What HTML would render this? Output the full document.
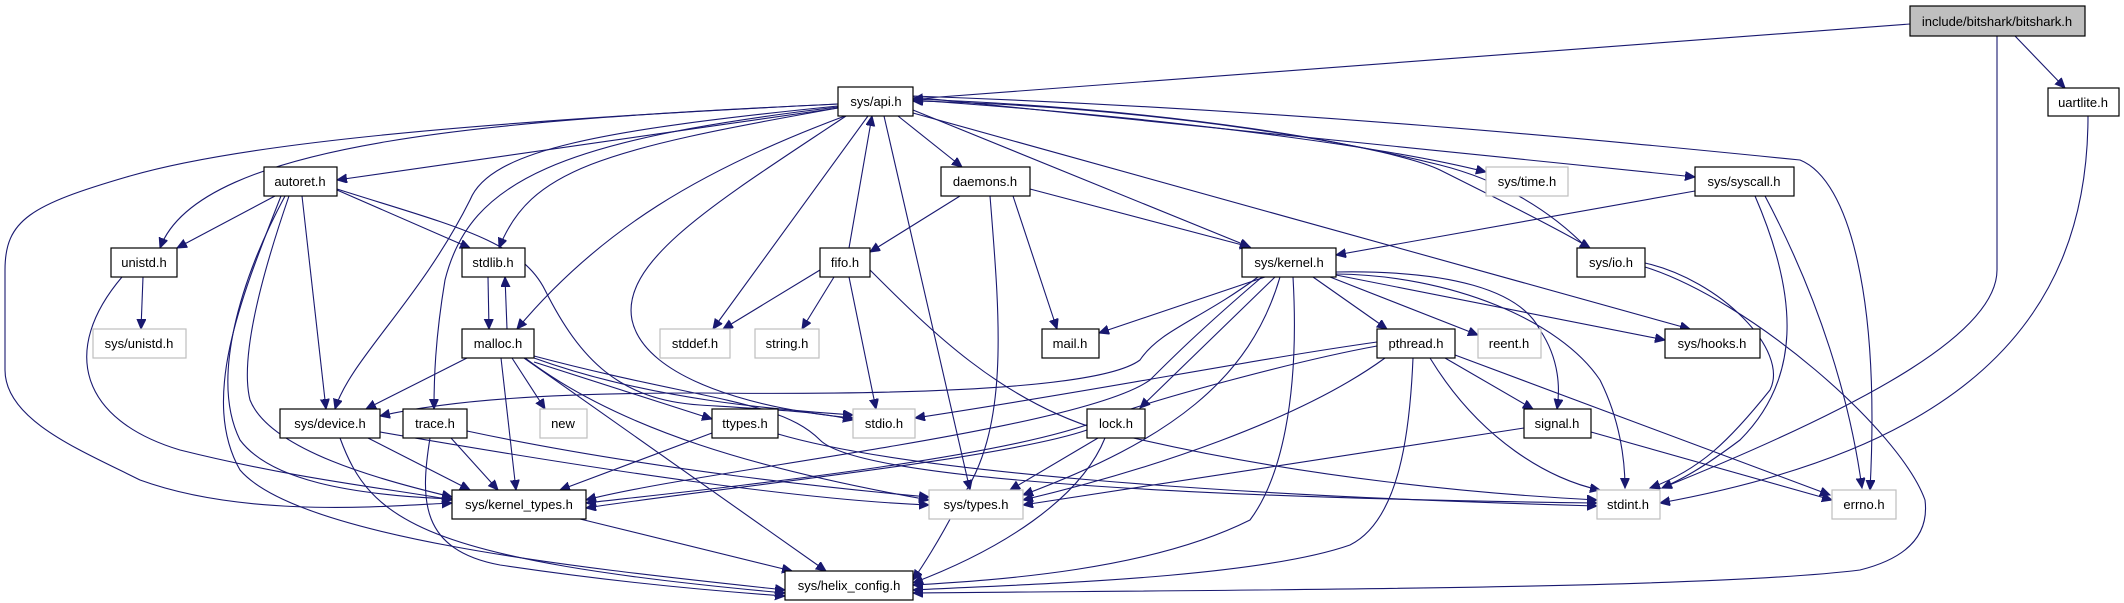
<!DOCTYPE html>
<html><head><meta charset="utf-8"><style>
html,body{margin:0;padding:0;background:#fff}
svg{display:block}
text{font-family:"Liberation Sans",sans-serif;font-size:13px;text-anchor:middle;fill:#000}
.e{fill:none;stroke:#191970;stroke-width:1.1;marker-end:url(#a)}
.b{fill:#fff;stroke:#000;stroke-width:1.2}
.g{fill:#fff;stroke:#bfbfbf;stroke-width:1.2}
</style></head><body>
<svg width="2124" height="603" viewBox="0 0 2124 603" xmlns="http://www.w3.org/2000/svg">
<defs><marker id="a" markerUnits="userSpaceOnUse" markerWidth="12" markerHeight="10" refX="10" refY="4.5" orient="auto"><path d="M0,0 L10,4.5 L0,9 z" fill="#191970" stroke="#191970"/></marker></defs>
<g>
<path class="e" d="M1910,24 L913,99"/>
<path class="e" d="M2015,36 L2065,88"/>
<path class="e" d="M1997,36 L1997,270 C1997,330 1880,400 1662,488"/>
<path class="e" d="M2088,116 C2088,330 1950,450 1660,503"/>
<path class="e" d="M838,108 L337,180"/>
<path class="e" d="M838,104 C500,120 200,140 160,248"/>
<path class="e" d="M838,104 C400,125 220,150 130,176 C30,205 5,220 5,270 L5,370 C5,420 80,450 140,480 C250,520 400,505 452,503"/>
<path class="e" d="M838,106 C600,130 490,150 470,200 C420,300 350,360 335,409"/>
<path class="e" d="M838,107 C560,140 470,180 445,280 C435,340 434,380 434,409"/>
<path class="e" d="M838,108 C600,150 530,170 499,248"/>
<path class="e" d="M845,116 C700,170 600,230 517,329"/>
<path class="e" d="M846,116 C720,200 620,260 632,320 C645,380 760,410 853,418"/>
<path class="e" d="M868,116 L713,329"/>
<path class="e" d="M884,116 L970,490"/>
<path class="e" d="M849,248 L872,116"/>
<path class="e" d="M898,116 L962,167"/>
<path class="e" d="M913,110 L1250,247"/>
<path class="e" d="M913,113 L1690,329"/>
<path class="e" d="M913,100 C1200,120 1400,150 1486,172"/>
<path class="e" d="M913,97 L1695,177"/>
<path class="e" d="M913,99 C1200,110 1400,150 1440,170 C1500,200 1560,230 1590,248"/>
<path class="e" d="M1587,248 C1550,210 1500,180 1440,165 C1300,130 1100,105 913,101"/>
<path class="e" d="M913,96 C1300,110 1600,140 1800,160 C1850,180 1880,300 1870,490"/>
<path class="e" d="M275,196 L177,248"/>
<path class="e" d="M337,190 L470,248"/>
<path class="e" d="M302,196 L326,409"/>
<path class="e" d="M289,196 C260,280 240,360 250,400 C270,450 380,480 452,497"/>
<path class="e" d="M285,196 C240,280 210,380 240,440 C270,480 350,495 452,499"/>
<path class="e" d="M281,196 C240,300 200,400 240,470 C300,540 600,570 785,590"/>
<path class="e" d="M337,189 C450,225 520,240 545,290 C580,360 620,400 700,405 C780,410 820,412 853,420"/>
<path class="e" d="M143,277 L141,329"/>
<path class="e" d="M122,277 C60,350 80,420 180,450 C300,480 400,490 452,500"/>
<path class="e" d="M488,277 L489,329"/>
<path class="e" d="M507,329 L505,277"/>
<path class="e" d="M467,358 L366,409"/>
<path class="e" d="M501,358 L516,490"/>
<path class="e" d="M512,358 L545,409"/>
<path class="e" d="M534,362 L712,419"/>
<path class="e" d="M534,358 C650,400 780,410 853,415"/>
<path class="e" d="M525,358 C620,430 760,470 929,500"/>
<path class="e" d="M524,358 L826,571"/>
<path class="e" d="M534,356 C700,400 780,400 820,440 C860,480 1200,498 1597,503"/>
<path class="e" d="M960,196 L870,252"/>
<path class="e" d="M1030,189 L1250,247"/>
<path class="e" d="M1013,196 L1057,329"/>
<path class="e" d="M990,196 C1000,320 1010,430 960,500 C940,540 920,570 913,580"/>
<path class="e" d="M820,270 L723,329"/>
<path class="e" d="M834,277 L802,329"/>
<path class="e" d="M849,277 L876,409"/>
<path class="e" d="M870,270 C930,330 1000,400 1100,430 C1300,480 1500,495 1597,500"/>
<path class="e" d="M1265,277 L1099,333"/>
<path class="e" d="M1258,277 C1200,320 1160,330 1140,360 C1100,390 900,395 700,393 C550,393 450,400 380,416"/>
<path class="e" d="M1262,277 C1200,330 1170,360 1150,380 C1080,430 700,470 586,500"/>
<path class="e" d="M1275,277 L1140,408"/>
<path class="e" d="M1280,277 C1250,380 1170,440 1023,495"/>
<path class="e" d="M1293,277 C1300,400 1280,480 1250,520 C1150,570 1000,580 913,585"/>
<path class="e" d="M1313,277 L1387,329"/>
<path class="e" d="M1330,277 L1478,335"/>
<path class="e" d="M1336,275 L1665,340"/>
<path class="e" d="M1336,272 C1450,270 1520,290 1540,330 C1560,360 1560,390 1557,409"/>
<path class="e" d="M1336,274 C1450,275 1560,320 1600,380 C1620,420 1625,460 1625,488"/>
<path class="e" d="M1695,191 L1336,255"/>
<path class="e" d="M1755,196 C1800,300 1800,380 1740,440 C1700,470 1680,480 1662,488"/>
<path class="e" d="M1765,196 C1820,300 1850,400 1862,488"/>
<path class="e" d="M1645,263 C1720,280 1790,350 1770,390 C1730,440 1700,470 1650,488"/>
<path class="e" d="M1645,267 C1750,300 1900,430 1925,500 C1930,540 1900,560 1860,570 C1700,590 1200,590 913,593"/>
<path class="e" d="M1377,342 C1250,360 1100,390 915,418"/>
<path class="e" d="M1377,346 C1300,360 1150,400 1100,420 C1000,460 700,490 586,503"/>
<path class="e" d="M1385,358 C1300,420 1150,470 1023,500"/>
<path class="e" d="M1413,358 C1410,430 1400,520 1350,545 C1250,580 1000,585 913,590"/>
<path class="e" d="M1445,358 L1533,409"/>
<path class="e" d="M1430,358 C1480,440 1550,480 1600,490"/>
<path class="e" d="M1455,355 L1830,495"/>
<path class="e" d="M1524,428 L1023,505"/>
<path class="e" d="M1591,432 L1832,500"/>
<path class="e" d="M1087,430 C1000,460 700,490 586,508"/>
<path class="e" d="M1098,438 L1010,490"/>
<path class="e" d="M1105,438 C1080,500 1000,550 913,583"/>
<path class="e" d="M368,438 L470,490"/>
<path class="e" d="M340,438 C370,520 420,560 785,593"/>
<path class="e" d="M380,432 C600,470 800,500 929,505"/>
<path class="e" d="M451,438 L498,490"/>
<path class="e" d="M430,438 C420,500 420,550 500,565 C600,580 700,590 785,596"/>
<path class="e" d="M467,431 C650,470 850,490 929,497"/>
<path class="e" d="M712,433 L560,490"/>
<path class="e" d="M778,434 C900,470 1200,495 1597,506"/>
<path class="e" d="M580,519 L792,571"/>
</g>
<g>
<rect x="1910" y="6" width="175" height="30" fill="#bfbfbf" stroke="#000" stroke-width="1.2"/><text x="1997" y="26">include/bitshark/bitshark.h</text>
<rect class="b" x="838" y="87" width="75" height="29"/><text x="876" y="106">sys/api.h</text>
<rect class="b" x="2048" y="88" width="71" height="28"/><text x="2083" y="107">uartlite.h</text>
<rect class="b" x="264" y="167" width="73" height="29"/><text x="300" y="186">autoret.h</text>
<rect class="b" x="941" y="167" width="89" height="29"/><text x="985" y="186">daemons.h</text>
<rect class="g" x="1486" y="167" width="82" height="29"/><text x="1527" y="186">sys/time.h</text>
<rect class="b" x="1695" y="167" width="99" height="29"/><text x="1744" y="186">sys/syscall.h</text>
<rect class="b" x="111" y="248" width="66" height="29"/><text x="144" y="267">unistd.h</text>
<rect class="b" x="462" y="248" width="63" height="29"/><text x="493" y="267">stdlib.h</text>
<rect class="b" x="820" y="248" width="50" height="29"/><text x="845" y="267">fifo.h</text>
<rect class="b" x="1242" y="248" width="94" height="29"/><text x="1289" y="267">sys/kernel.h</text>
<rect class="b" x="1577" y="248" width="68" height="29"/><text x="1611" y="267">sys/io.h</text>
<rect class="g" x="93" y="329" width="93" height="29"/><text x="139" y="348">sys/unistd.h</text>
<rect class="b" x="462" y="329" width="72" height="29"/><text x="498" y="348">malloc.h</text>
<rect class="g" x="660" y="329" width="70" height="29"/><text x="695" y="348">stddef.h</text>
<rect class="g" x="755" y="329" width="64" height="29"/><text x="787" y="348">string.h</text>
<rect class="b" x="1042" y="329" width="57" height="29"/><text x="1070" y="348">mail.h</text>
<rect class="b" x="1377" y="329" width="78" height="29"/><text x="1416" y="348">pthread.h</text>
<rect class="g" x="1478" y="329" width="63" height="29"/><text x="1509" y="348">reent.h</text>
<rect class="b" x="1665" y="329" width="95" height="29"/><text x="1712" y="348">sys/hooks.h</text>
<rect class="b" x="280" y="409" width="100" height="29"/><text x="330" y="428">sys/device.h</text>
<rect class="b" x="403" y="409" width="64" height="29"/><text x="435" y="428">trace.h</text>
<rect class="g" x="540" y="409" width="47" height="29"/><text x="563" y="428">new</text>
<rect class="b" x="712" y="409" width="66" height="29"/><text x="745" y="428">ttypes.h</text>
<rect class="g" x="853" y="409" width="62" height="29"/><text x="884" y="428">stdio.h</text>
<rect class="b" x="1087" y="409" width="58" height="29"/><text x="1116" y="428">lock.h</text>
<rect class="b" x="1524" y="409" width="67" height="29"/><text x="1557" y="428">signal.h</text>
<rect class="b" x="452" y="490" width="134" height="29"/><text x="519" y="509">sys/kernel_types.h</text>
<rect class="g" x="929" y="490" width="94" height="29"/><text x="976" y="509">sys/types.h</text>
<rect class="g" x="1597" y="490" width="63" height="29"/><text x="1628" y="509">stdint.h</text>
<rect class="g" x="1832" y="490" width="64" height="29"/><text x="1864" y="509">errno.h</text>
<rect class="b" x="785" y="571" width="128" height="29"/><text x="849" y="590">sys/helix_config.h</text>
</g>
</svg>
</body></html>
